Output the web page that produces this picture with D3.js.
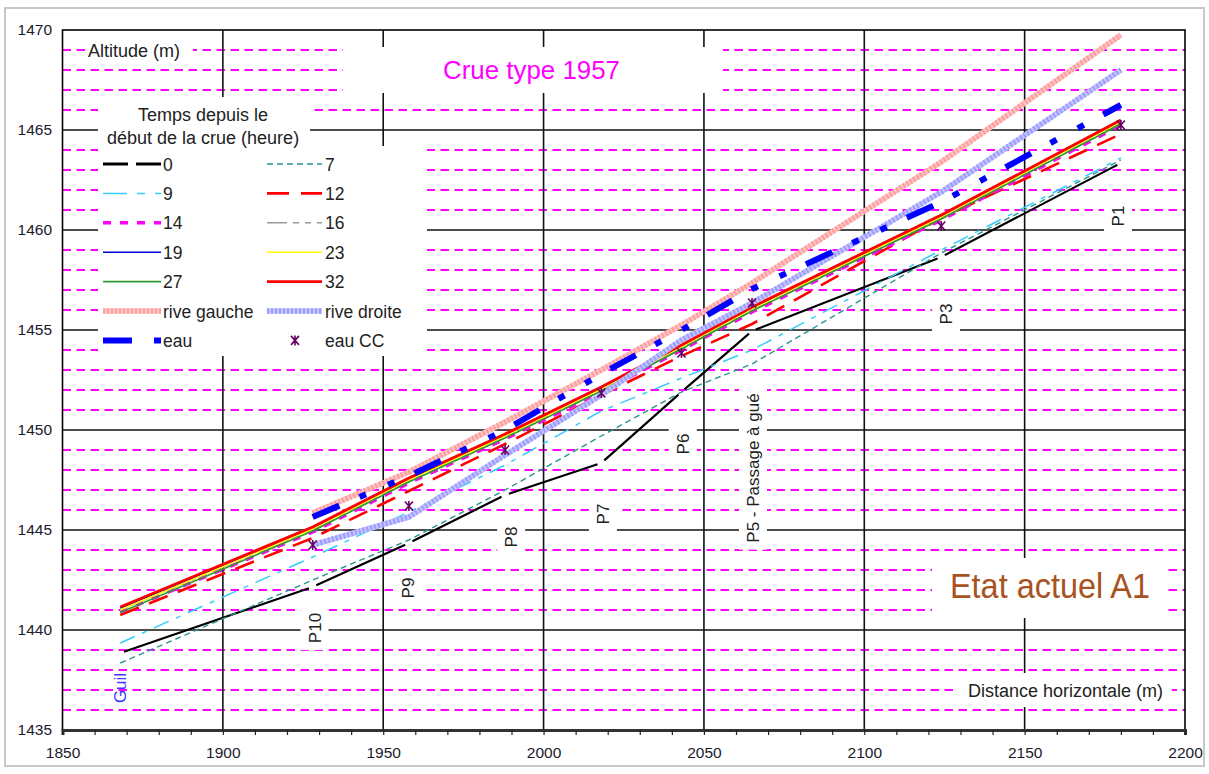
<!DOCTYPE html>
<html><head><meta charset="utf-8">
<script src="https://cdn.jsdelivr.net/npm/d3@7"></script>
<style>
body{margin:0;background:#fff}
svg{display:block}
text{font-family:"Liberation Sans",Arial,Helvetica,sans-serif}
</style>
</head><body>
<svg id="c" width="1209" height="774"></svg>
<script>
// ---------------- DATA ----------------
const profiles = ["Guil","P10","P9","P8","P7","P6","P5","P3","P1"];
const distance = [1868,1928,1958,1988,2018,2043,2065,2124,2180];
const t0  = [1438.85,1442.15,1444.35,1446.75,1448.35,1451.9,1454.95,1458.65,1463.35];
const t7  = [1438.35,1442.5,1444.5,1447.0,1449.7,1451.9,1453.3,1458.85,1463.5];
const t9  = [1439.35,1443.65,1445.9,1448.25,1450.95,1452.6,1454.0,1459.0,1463.6];
const t12 = [1440.75,1444.6,1446.95,1449.3,1451.75,1453.7,1455.3,1460.6,1464.8];
const t14 = [1440.9,1444.9,1447.35,1449.55,1451.9,1454.0,1455.9,1460.5,1465.25];
const t16 = [1441.0,1445.0,1447.45,1449.65,1452.0,1454.1,1456.0,1460.6,1465.35];
const t19 = [1441.1,1445.1,1447.55,1449.75,1452.1,1454.2,1456.1,1460.7,1465.45];
const t23 = [1441.0,1445.05,1447.5,1449.7,1452.05,1454.15,1456.05,1460.65,1465.4];
const t27 = [1440.87,1444.95,1447.4,1449.6,1451.95,1454.05,1455.95,1460.55,1465.3];
const t32 = [1441.15,1445.15,1447.6,1449.8,1452.15,1454.25,1456.15,1460.75,1465.5];
const riveGauche = [null,1445.85,1447.9,1450.4,1453.0,1455.25,1457.35,1463.4,1469.75];
const riveDroite = [null,1444.25,1445.65,1448.75,1451.75,1454.5,1456.35,1461.9,1468.0];
const eau   = [null,1445.65,1447.7,1450.0,1452.8,1455.0,1457.05,1461.4,1466.25];
const eauCC = [null,1444.25,1446.2,1449.0,1451.85,1453.85,1456.35,1460.2,1465.25];

const seriesNames = ["0","7","9","12","14","16","19","23","27","32","rive gauche","rive droite","eau","eau CC"];
const seriesValues = [t0,t7,t9,t12,t14,t16,t19,t23,t27,t32,riveGauche,riveDroite,eau,eauCC];

const xTicks = [1850,1900,1950,2000,2050,2100,2150,2200];
const yTicks = [1435,1440,1445,1450,1455,1460,1465,1470];

// profile annotations (name, distance, altitude of label centre)
const profileLabels = ["P10","P9","P8","P7","P6","P5 - Passage à gué","P3","P1"];
const profileLabelDist = [1928.6,1957.7,1989.9,2018.5,2043.4,2065.3,2125.5,2179.1];
const profileLabelAlt  = [1440.1,1442.1,1444.65,1445.8,1449.3,1448.1,1455.8,1460.7];

const title = "Crue type 1957";
const subtitle = "Etat actuel A1";
const yTitle = "Altitude (m)";
const xTitle = "Distance horizontale (m)";
const legendTitle = ["Temps depuis le","début de la crue (heure)"];
const riverName = "Guil";

// ---------------- STYLES ----------------
const style = {
  "0":  {color:"#000000", width:2.2, dash:null, gapAtVertex:true, legendDash:"25,8", legendWidth:3},
  "7":  {color:"#2a9590", width:1.4, dash:"6,4"},
  "9":  {color:"#33ccff", width:1.5, dash:"16,8,5,8", legendDash:"24,10,8,10"},
  "12": {color:"#ff0000", width:2.6, dash:"20,11", legendDash:"22,12"},
  "14": {color:"#ff00ff", width:3.5, dash:"8,9"},
  "16": {color:"#9a9a9a", width:1.4, dash:"20,6,6,6,6,6"},
  "19": {color:"#0000cc", width:1.4, dash:null},
  "23": {color:"#ffff00", width:1.4, dash:null},
  "27": {color:"#339933", width:1.6, dash:null},
  "32": {color:"#ff0000", width:2.8, dash:null},
  "rive gauche": {color:"#ffc4c4", over:"#ff9c9c", width:5.5, dash:null, texture:"2,2"},
  "rive droite": {color:"#c4c4ff", over:"#9c9cff", width:5.5, dash:null, texture:"2,2"},
  "eau": {color:"#0000ff", width:6, dash:"29,22,7,24,7,22"},
  "eau CC": {color:"#660066", marker:true}
};
const markerPath = "M-4,-4.5L4,4.5M-4,4.5L4,-4.5M0,-5L0,5";

// ---------------- LAYOUT ----------------
const svg = d3.select("#c");
const x = d3.scaleLinear().domain([1850,2200]).range([62.5,1185]);
const y = d3.scaleLinear().domain([1435,1470]).range([730,30]);

// outer border
svg.append("rect").attr("x",5).attr("y",8).attr("width",1199).attr("height",758)
  .attr("fill","#fff").attr("stroke","#c8c8c8").attr("stroke-width",2);

const grid = svg.append("g");
const minorAlts = d3.range(1436,1470).filter(v => v % 5 !== 0);
grid.selectAll("line.mg").data(minorAlts).join("line")
  .attr("x1",x(1850)).attr("x2",x(2200)).attr("y1",d=>y(d)).attr("y2",d=>y(d))
  .attr("stroke","#ff00ff").attr("stroke-width",2).attr("stroke-dasharray","8.5,5.5");
grid.selectAll("line.hg").data(yTicks.slice(1,-1)).join("line")
  .attr("x1",x(1850)).attr("x2",x(2200)).attr("y1",d=>y(d)).attr("y2",d=>y(d))
  .attr("stroke","#111").attr("stroke-width",1.6);
grid.selectAll("line.vg").data(xTicks.slice(1,-1)).join("line")
  .attr("y1",y(1435)).attr("y2",y(1470)).attr("x1",d=>x(d)).attr("x2",d=>x(d))
  .attr("stroke","#111").attr("stroke-width",1.6);

// white boxes (annotations hide grid)
const boxes = svg.append("g").attr("fill","#fff");
boxes.append("rect").attr("x",85).attr("y",40).attr("width",108).attr("height",21);
boxes.append("rect").attr("x",343).attr("y",47).attr("width",380).attr("height",46);
boxes.append("rect").attr("x",98).attr("y",97).attr("width",212).attr("height",52);
boxes.append("rect").attr("x",98).attr("y",146).attr("width",329).attr("height",210);
boxes.append("rect").attr("x",932).attr("y",558).attr("width",235).attr("height",60);
boxes.append("rect").attr("x",958).attr("y",673).attr("width",214).attr("height",34);

// profile labels with white background
const pl = svg.append("g");
profileLabels.forEach((name,i)=>{
  const g = pl.append("g").attr("transform",`translate(${x(profileLabelDist[i])},${y(profileLabelAlt[i])}) rotate(-90)`);
  const r = g.append("rect").attr("fill","#fff");
  const t = g.append("text").text(name).attr("text-anchor","middle").attr("dy","0.36em")
    .attr("font-size",17).attr("fill","#222");
  const len = t.node().getComputedTextLength();
  r.attr("x",-len/2-7).attr("y",-14).attr("width",len+14).attr("height",28);
});
svg.append("text").text(riverName)
  .attr("transform",`translate(${x(distance[0])-0.5},688) rotate(-90)`)
  .attr("text-anchor","middle").attr("dy","0.36em").attr("font-size",17).attr("fill","#3a3aff");

// plot frame
svg.append("rect").attr("x",x(1850)).attr("y",y(1470)).attr("width",x(2200)-x(1850)).attr("height",y(1435)-y(1470))
  .attr("fill","none").attr("stroke","#000").attr("stroke-width",1.6);

// axes
const xAxisMinor = d3.axisBottom(x).tickValues(d3.range(1850,2201,10)).tickSize(5).tickFormat("");
const gxm = svg.append("g").attr("transform",`translate(0,${y(1435)})`).call(xAxisMinor);
gxm.select(".domain").attr("stroke","#333").attr("stroke-width",3);
gxm.selectAll(".tick line").attr("stroke","#222").attr("stroke-width",1.2);
const xAxis = d3.axisBottom(x).tickValues(xTicks).tickSize(0).tickPadding(16.5).tickFormat(d3.format("d"));
const gx = svg.append("g").attr("transform",`translate(0,${y(1435)})`).call(xAxis);
gx.select(".domain").remove();
gx.selectAll("text").attr("font-size",15.5).attr("fill","#1a1a2a").attr("font-family","Liberation Sans, Arial, sans-serif");
const yAxis = d3.axisLeft(y).tickValues(yTicks).tickSize(0).tickPadding(10.5).tickFormat(d3.format("d"));
const gy = svg.append("g").attr("transform",`translate(${x(1850)},0)`).call(yAxis);
gy.select(".domain").remove();
gy.selectAll("text").attr("font-size",15.5).attr("fill","#1a1a2a").attr("font-family","Liberation Sans, Arial, sans-serif");

// texts
svg.append("text").text(yTitle).attr("x",88).attr("y",56.5).attr("font-size",18).attr("fill","#222");
svg.append("text").text(xTitle).attr("x",968).attr("y",696.5).attr("font-size",18).attr("fill","#222")
  .attr("textLength",195).attr("lengthAdjust","spacingAndGlyphs");
svg.append("text").text(title).attr("x",443).attr("y",78.5).attr("font-size",26).attr("fill","#ff00ff")
  .attr("textLength",177).attr("lengthAdjust","spacingAndGlyphs");
svg.append("text").text(subtitle).attr("x",950).attr("y",598).attr("font-size",35).attr("fill","#a8521e")
  .attr("textLength",200).attr("lengthAdjust","spacingAndGlyphs");

// ---------------- SERIES ----------------
const plot = svg.append("g");
const line = d3.line().defined(d=>d.v!=null).x(d=>x(d.d)).y(d=>y(d.v));
function pts(vals){ return distance.map((d,i)=>({d:d, v:vals[i]})); }

seriesNames.forEach((name,si)=>{
  const st = style[name];
  const data = pts(seriesValues[si]);
  if (st.marker){
    plot.append("g").selectAll("path").data(data.filter(p=>p.v!=null)).join("path")
      .attr("transform",p=>`translate(${x(p.d)},${y(p.v)})`)
      .attr("d",markerPath).attr("stroke",st.color).attr("stroke-width",1.6).attr("fill","none");
    return;
  }
  if (st.gapAtVertex){
    const valid = data.filter(p=>p.v!=null);
    for (let i=0;i<valid.length-1;i++){
      const a=valid[i], b=valid[i+1];
      const x1=x(a.d), y1=y(a.v), x2=x(b.d), y2=y(b.v);
      const len=Math.hypot(x2-x1,y2-y1);
      plot.append("line").attr("x1",x1).attr("y1",y1).attr("x2",x2).attr("y2",y2)
        .attr("stroke",st.color).attr("stroke-width",st.width)
        .attr("stroke-dasharray",`0,4,${len-8},4`);
    }
    return;
  }
  plot.append("path").datum(data).attr("d",line).attr("fill","none")
    .attr("stroke",st.color).attr("stroke-width",st.width)
    .attr("stroke-dasharray",st.dash).attr("stroke-linejoin","round");
  if (st.texture){
    plot.append("path").datum(data).attr("d",line).attr("fill","none")
      .attr("stroke",st.over).attr("stroke-width",st.width)
      .attr("stroke-dasharray",st.texture);
  }
});

// ---------------- LEGEND ----------------
const lg = svg.append("g");
lg.append("text").text(legendTitle[0]).attr("x",138).attr("y",121).attr("font-size",18).attr("fill","#222");
lg.append("text").text(legendTitle[1]).attr("x",107).attr("y",143.5).attr("font-size",18).attr("fill","#222");
const colSw = [[103,161],[267,322]];
const colLab = [163,325];
const rowY0 = 164, rowDy = 29.4;
seriesNames.forEach((name,i)=>{
  const col = i%2, row = Math.floor(i/2);
  const yy = rowY0 + row*rowDy;
  const st = style[name];
  if (st.marker){
    lg.append("path").attr("transform",`translate(295,${yy})`)
      .attr("d",markerPath).attr("stroke",st.color).attr("stroke-width",1.6).attr("fill","none");
  } else {
    const [a,b] = colSw[col];
    lg.append("line").attr("x1",a).attr("x2",b).attr("y1",yy).attr("y2",yy)
      .attr("stroke",st.color).attr("stroke-width",st.legendWidth||st.width)
      .attr("stroke-dasharray",st.legendDash||st.dash);
    if (st.texture){
      lg.append("line").attr("x1",a).attr("x2",b).attr("y1",yy).attr("y2",yy)
        .attr("stroke",st.over).attr("stroke-width",st.width).attr("stroke-dasharray",st.texture);
    }
  }
  lg.append("text").text(name).attr("x",colLab[col]).attr("y",yy+6.5)
    .attr("font-size",17.5).attr("fill","#222");
});
</script>
</body></html>
